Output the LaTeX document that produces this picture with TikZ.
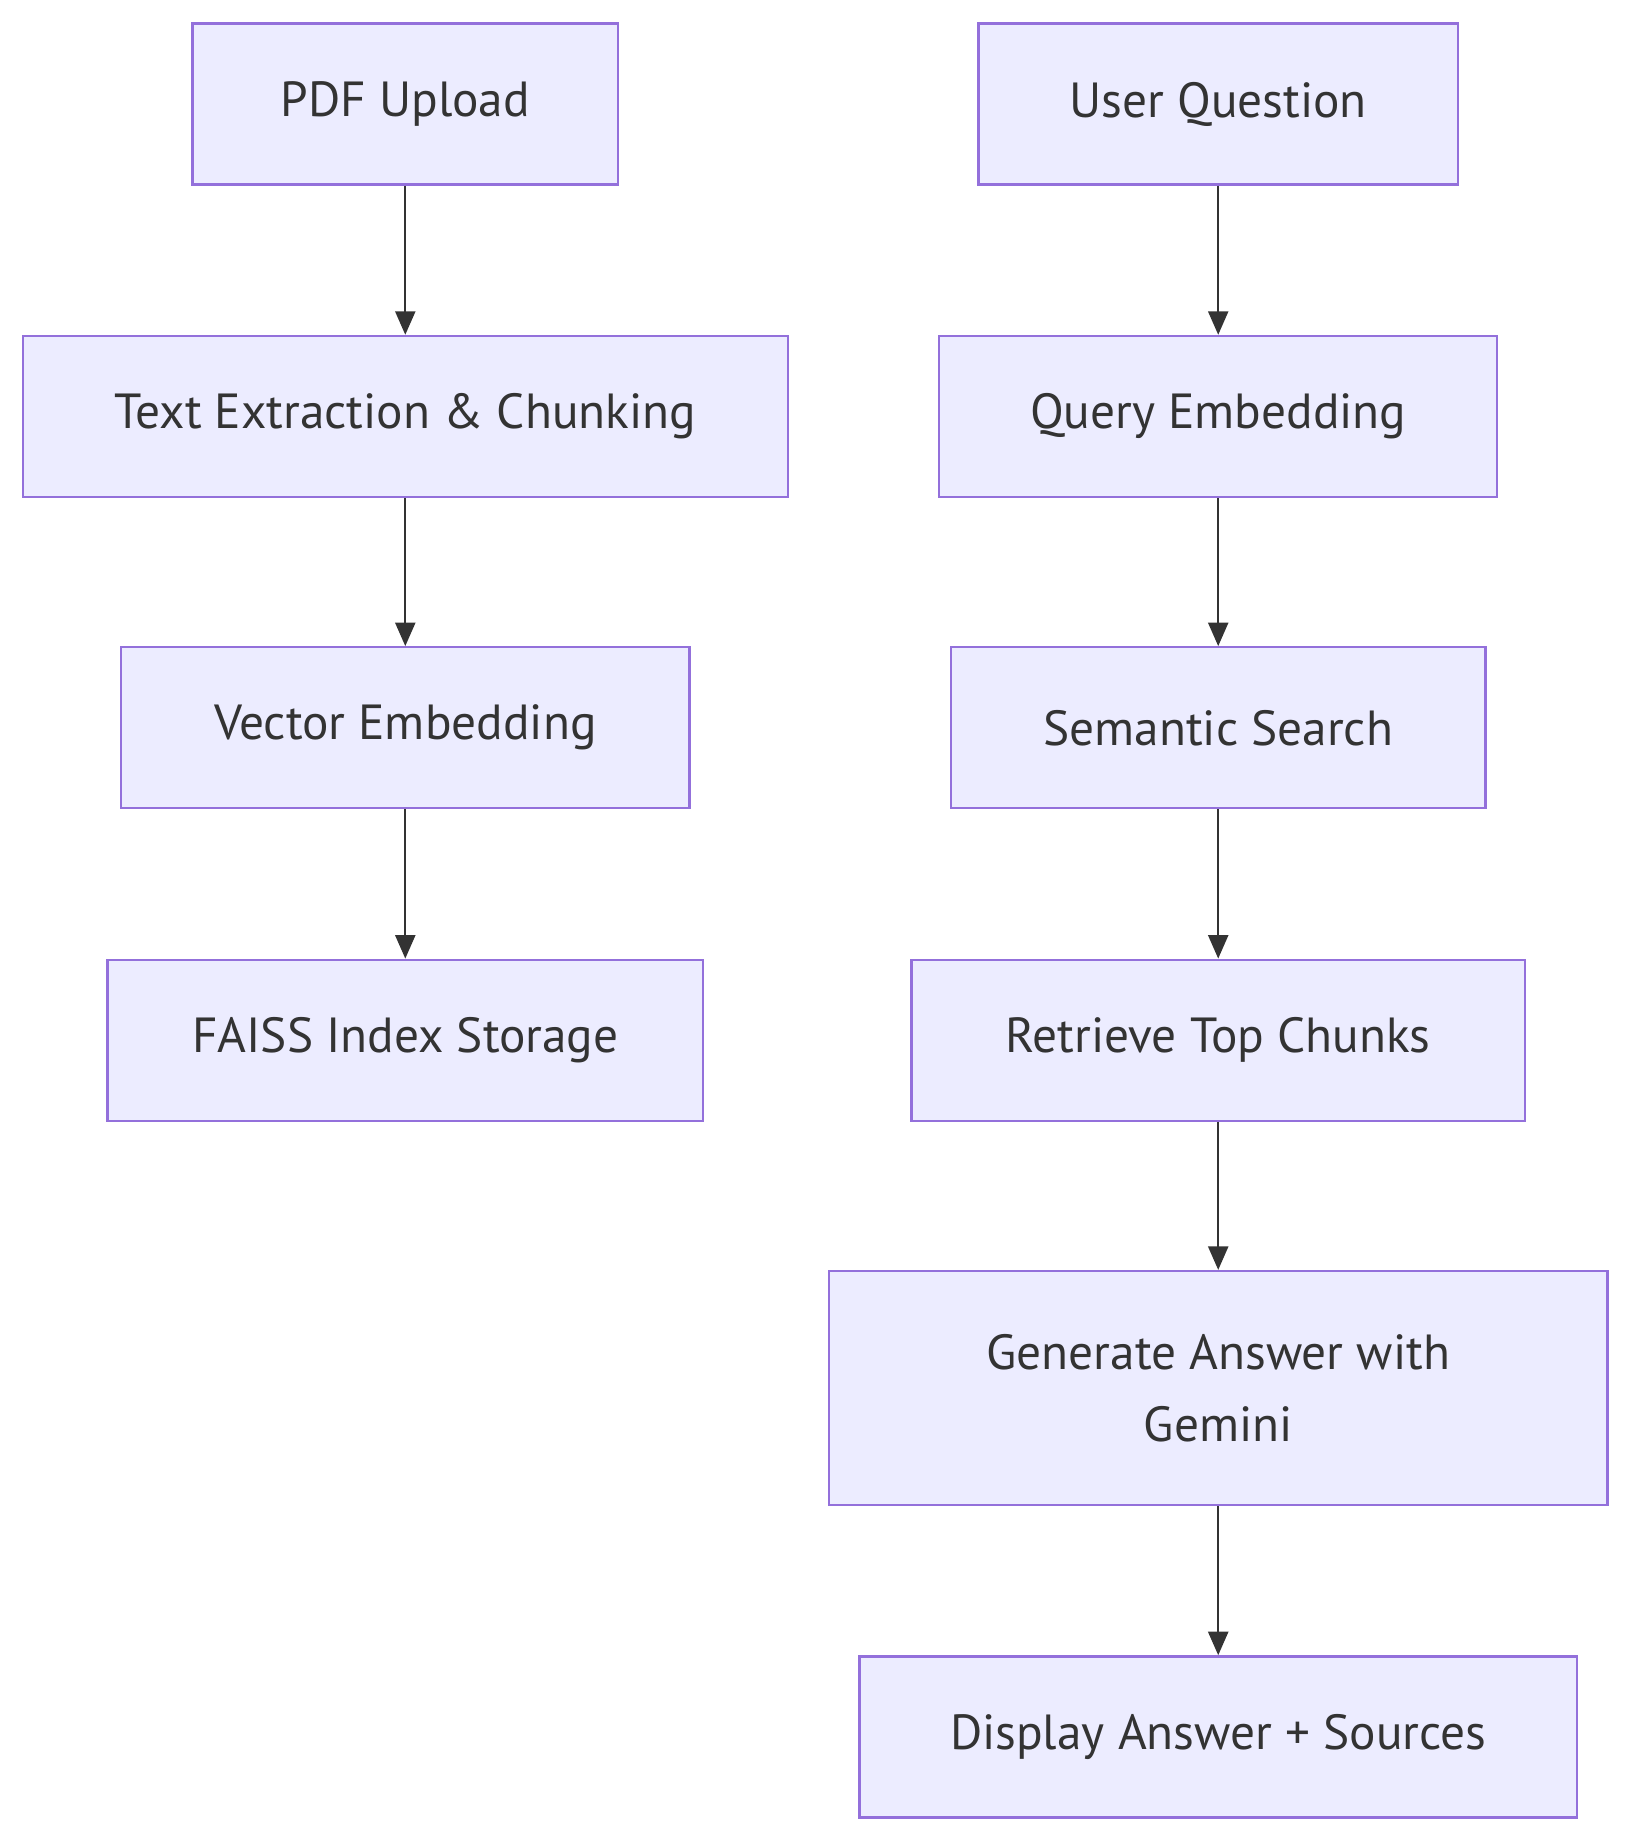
\documentclass[tikz,border=0pt]{standalone}
\usepackage{fontspec}
\setmainfont{PT Sans}
\usepackage{xcolor}
\usetikzlibrary{arrows.meta,positioning}
\definecolor{boxfill}{HTML}{ECECFF}
\definecolor{boxline}{HTML}{9370DB}
\definecolor{ink}{HTML}{333333}

\begin{document}
\begin{tikzpicture}[
    x=1pt, y=-1pt,
    box/.style={rectangle, draw=boxline, fill=boxfill, line width=2pt, minimum width=#1, minimum height=137pt, align=center, text=ink, font=\fontsize{42}{61}\selectfont},
    flow/.style={draw=ink, line width=2pt, -{Triangle[length=20pt,width=17pt]}},
]
\useasboundingbox (0,0) rectangle (1389,1568);

\node[box=362pt] (pdf) at (345, 88.5) {PDF Upload};
\node[box=651pt] (chunk) at (345, 354.5) {Text Extraction \& Chunking};
\node[box=484pt] (vec) at (345, 619.5) {Vector Embedding};
\node[box=507pt] (faiss) at (345, 885.5) {FAISS Index Storage};

\node[box=408pt] (question) at (1037, 88.5) {User Question};
\node[box=475pt] (query) at (1037, 354.5) {Query Embedding};
\node[box=455pt] (search) at (1037, 619.5) {Semantic Search};
\node[box=522pt] (top) at (1037, 885.5) {Retrieve Top Chunks};
\node[box=663pt, minimum height=199pt] (gen) at (1037, 1181.5) {Generate Answer with\\Gemini};
\node[box=611pt] (show) at (1037, 1478.5) {Display Answer + Sources};

\draw[flow] (pdf) -- (chunk);
\draw[flow] (chunk) -- (vec);
\draw[flow] (vec) -- (faiss);

\draw[flow] (question) -- (query);
\draw[flow] (query) -- (search);
\draw[flow] (search) -- (top);
\draw[flow] (top) -- (gen);
\draw[flow] (gen) -- (show);

\end{tikzpicture}
\end{document}
